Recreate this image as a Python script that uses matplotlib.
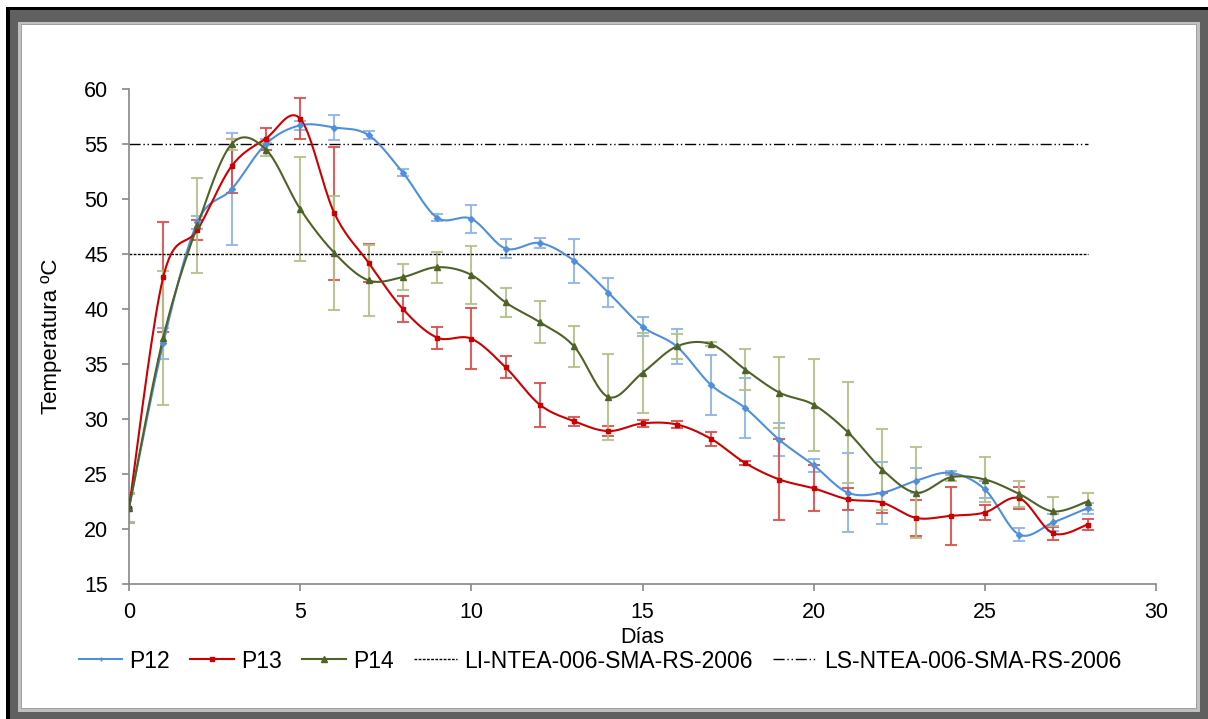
import numpy as np
import matplotlib.pyplot as plt
from matplotlib.patches import Rectangle

plt.rcParams['font.family'] = ['Liberation Sans', 'DejaVu Sans']

dias = list(range(29))

p12 = [21.9, 36.9, 47.9, 50.9, 55.0, 56.7, 56.5, 55.8, 52.4, 48.3, 48.2, 45.5, 46.0, 44.4,
       41.5, 38.4, 36.6, 33.1, 31.0, 28.1, 25.8, 23.3, 23.3, 24.4, 25.1, 23.6, 19.5, 20.6, 21.9]
p12_err = [1.3, 1.4, 0.6, 5.1, 0.5, 0.4, 1.1, 0.35, 0.3, 0.3, 1.3, 0.85, 0.45, 2.0,
           1.3, 0.85, 1.6, 2.7, 2.7, 1.5, 0.6, 3.6, 2.8, 1.15, 0.2, 0.75, 0.6, 0.8, 0.5]

p13 = [21.9, 42.9, 47.2, 53.0, 55.5, 57.3, 48.7, 44.2, 40.0, 37.4, 37.3, 34.7, 31.3, 29.8,
       28.9, 29.6, 29.5, 28.2, 26.0, 24.5, 23.7, 22.7, 22.4, 21.0, 21.2, 21.5, 22.8, 19.6, 20.4]
p13_err = [1.35, 5.0, 0.9, 2.45, 1.0, 1.85, 6.05, 1.7, 1.2, 1.0, 2.75, 1.0, 2.0, 0.4,
           0.45, 0.3, 0.3, 0.65, 0.2, 3.7, 2.1, 1.0, 0.9, 1.65, 2.65, 0.7, 1.0, 0.6, 0.5]

p14 = [21.9, 37.4, 47.6, 55.0, 54.5, 49.1, 45.1, 42.6, 42.9, 43.8, 43.1, 40.6, 38.8, 36.6,
       32.0, 34.2, 36.6, 36.8, 34.5, 32.4, 31.3, 28.8, 25.4, 23.3, 24.7, 24.5, 23.2, 21.6, 22.5]
p14_err = [1.35, 6.1, 4.3, 0.5, 0.6, 4.75, 5.2, 3.2, 1.15, 1.4, 2.65, 1.35, 1.9, 1.85,
           3.9, 3.65, 1.1, 0.2, 1.9, 3.2, 4.2, 4.6, 3.7, 4.15, 0.3, 2.05, 1.2, 1.3, 0.8]

li = [45] * len(dias)
ls = [55] * len(dias)


def suave(x, y, n=20):
    # curva suavizada tipo Excel (Catmull-Rom / Bezier)
    x = np.asarray(x, float)
    y = np.asarray(y, float)
    px = np.concatenate([[x[0]], x, [x[-1]]])
    py = np.concatenate([[y[0]], y, [y[-1]]])
    xs, ys = [], []
    t = np.linspace(0, 1, n)
    for i in range(1, len(px) - 2):
        p0 = np.array([px[i], py[i]])
        p3 = np.array([px[i + 1], py[i + 1]])
        c1 = p0 + (np.array([px[i + 1], py[i + 1]]) - np.array([px[i - 1], py[i - 1]])) / 6
        c2 = p3 - (np.array([px[i + 2], py[i + 2]]) - np.array([px[i], py[i]])) / 6
        b = ((1 - t) ** 3)[:, None] * p0 + (3 * (1 - t) ** 2 * t)[:, None] * c1 \
            + (3 * (1 - t) * t ** 2)[:, None] * c2 + (t ** 3)[:, None] * p3
        xs.extend(b[:, 0])
        ys.extend(b[:, 1])
    return xs, ys


W, H = 1208, 719
fig = plt.figure(figsize=(W / 100, H / 100), dpi=100)


def caja(x0, y0, x1, y1, color, z):
    # rectangulo en pixeles (origen arriba a la izquierda)
    fig.patches.append(Rectangle((x0 / W, 1 - y1 / H), (x1 - x0) / W, (y1 - y0) / H,
                                 transform=fig.transFigure, facecolor=color,
                                 edgecolor='none', zorder=z))


# marco
caja(6, 7, W, H, '#606060', -6)
caja(6, 7, W, 10, 'black', -5)
caja(6, 7, 10, H, 'black', -5)
caja(18, 22, 1200, 712, '#c0c0c0', -4)
caja(21, 24, 1197, 709, '#a0a0a0', -3)
caja(22, 25, 1196, 708, 'white', -2)

ax = fig.add_axes([129 / W, 1 - 584 / H, (1156 - 129) / W, (584 - 89) / H])
ax.patch.set_alpha(0)

series = [
    ('P12', p12, p12_err, '#4f8fdc', '#8fb4e6', 'D', 3),
    ('P13', p13, p13_err, '#cc0000', '#d85050', 's', 3.5),
    ('P14', p14, p14_err, '#4f6228', '#b3c08a', '^', 4),
]
handles = []
for nombre, y, err, col, ecol, mk, ms in series:
    ax.errorbar(dias, y, yerr=err, fmt='none', ecolor=ecol, elinewidth=1.5,
                capsize=4, capthick=1.5, alpha=0.9, zorder=2)
    xs, ys = suave(dias, y)
    ax.plot(xs, ys, color=col, lw=1.5, zorder=3)
    ax.plot(dias, y, ls='none', marker=mk, ms=ms, color=col, zorder=4)
    h, = ax.plot([], [], color=col, lw=1.5, marker='+' if mk == 'D' else mk, ms=ms, label=nombre)
    handles.append(h)

h1, = ax.plot(dias, li, color='black', lw=1, ls=(0, (2, 1)), label='LI-NTEA-006-SMA-RS-2006')
h2, = ax.plot(dias, ls, color='black', lw=1, ls=(0, (8, 2, 1, 2, 1, 2)), label='LS-NTEA-006-SMA-RS-2006')
handles += [h1, h2]

ax.set_xlim(0, 30)
ax.set_ylim(15, 60)
ax.set_xticks(range(0, 31, 5))
ax.set_yticks(range(15, 61, 5))
for s in ['top', 'right']:
    ax.spines[s].set_visible(False)
for s in ['left', 'bottom']:
    ax.spines[s].set_color('#888888')
    ax.spines[s].set_linewidth(1.2)
ax.tick_params(direction='out', length=5, color='#888888', labelsize=15.5, width=1.2)
ax.tick_params(axis='y', pad=10)
ax.tick_params(axis='x', pad=8)
ax.set_xlabel('Días', fontsize=15.5, labelpad=3)
ax.set_ylabel('Temperatura ºC', fontsize=16, labelpad=16)

fig.legend(handles=handles, ncol=5, loc='center', bbox_to_anchor=(600 / W, 1 - 661 / H),
           frameon=False, fontsize=16.5, handlelength=1.9, columnspacing=0.9, handletextpad=0.3)

fig.savefig('out.png', dpi=100)
